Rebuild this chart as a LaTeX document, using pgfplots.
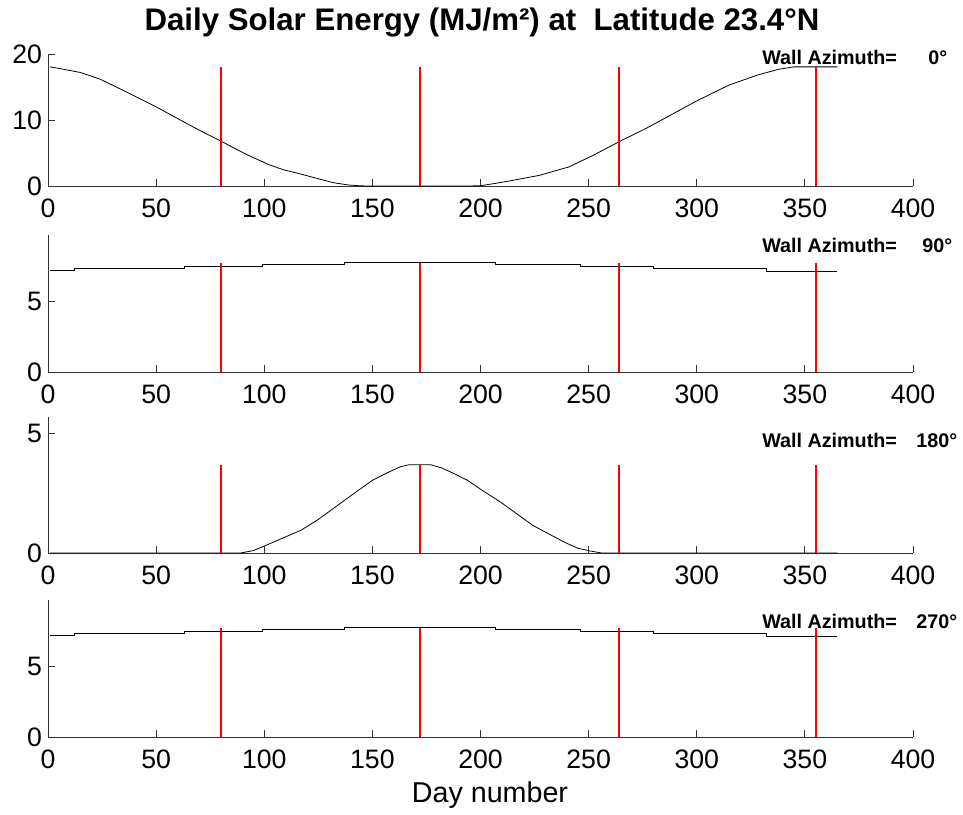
\documentclass[border=0pt]{standalone}
\usepackage{fontspec}
\setmainfont{Liberation Sans}
\usepackage{pgfplots}
\pgfplotsset{compat=1.18}
\pgfplotsset{
  myax/.style={
    scale only axis, width=648.75pt,
    xmin=0, xmax=400, ymin=0, enlargelimits=false,
    axis x line=bottom, axis y line=left,
    axis line style={-, black!80, line width=0.75pt},
    tick style={black!80, line width=0.75pt},
    tick align=inside, major tick length=5.25pt,
    xtick={0,50,...,400},
    ticklabel style={font=\fontsize{20}{24}\selectfont},
    xticklabel style={yshift=-6pt},
    yticklabel style={xshift=-1pt},
    /pgf/number format/assume math mode=true,
    unbounded coords=jump,
    anchor=south west, clip=false,
  },
}
\begin{document}
\begin{tikzpicture}
\path[use as bounding box] (0,0) rectangle (722.25pt,-610.5pt);

% Panel 1: wall azimuth 0
\begin{axis}[myax, at={(36pt,-139.5pt)}, height=99pt, ymax=20, ytick={0,10,20}]
\addplot[black, line width=0.6pt] coordinates {
(1,18.05) (7,17.7) (15,17.2) (24,16.2) (36,14.3) (50,12.0) (64,9.5) (70,8.45)
(80,6.8) (86,5.75) (93,4.6) (102,3.25) (109,2.45) (117,1.8) (125,1.1) (132,0.5) (139,0.15)
(145,0.02) (150,0) (195,0) (200,0.05) (207,0.4) (214,0.8) (227,1.6) (241,2.9)
(253,4.8) (264,6.7) (277,8.8) (286,10.4) (300,12.9) (315,15.3) (328,16.8)
(338,17.7) (345,18.05) (365,18.05)};
\addplot[red, line width=1.3pt] coordinates {(80,0) (80,18.07) (80,nan)
 (172,0) (172,18.07) (172,nan) (264,0) (264,18.07) (264,nan) (355,0) (355,18.07)};
\end{axis}

% Panel 2: wall azimuth 90
\begin{axis}[myax, at={(36pt,-279pt)}, height=102.75pt, ymax=9.65, ytick={0,5}]
\addplot[black, line width=0.6pt, const plot] coordinates {
(1,7.13) (12,7.28) (63,7.42) (99,7.58) (137,7.72) (207,7.58) (246,7.42)
(280,7.28) (332,7.12) (365,7.12)};
\addplot[red, line width=1.3pt] coordinates {(80,0) (80,7.7) (80,nan)
 (172,0) (172,7.7) (172,nan) (264,0) (264,7.7) (264,nan) (355,0) (355,7.7)};
\end{axis}

% Panel 3: wall azimuth 180
\begin{axis}[myax, at={(36pt,-414.75pt)}, height=102pt, ymax=5.67, ytick={0,5}]
\addplot[black, line width=0.6pt] coordinates {
(1,0) (89,0) (95,0.1) (100,0.29) (108,0.6) (117,0.95) (125,1.4) (132,1.86)
(141,2.45) (150,3.03) (157,3.35) (163,3.6) (167,3.68) (177,3.68) (182,3.55)
(188,3.3) (194,3.03) (201,2.6) (209,2.14) (217,1.62) (224,1.16) (234,0.68)
(240,0.4) (245,0.2) (251,0.08) (256,0) (365,0)};
\addplot[red, line width=1.3pt] coordinates {(80,0) (80,3.67) (80,nan)
 (172,0) (172,3.67) (172,nan) (264,0) (264,3.67) (264,nan) (355,0) (355,3.67)};
\end{axis}

% Panel 4: wall azimuth 270
\begin{axis}[myax, at={(36pt,-552.75pt)}, height=102.75pt, ymax=9.65, ytick={0,5}]
\addplot[black, line width=0.6pt, const plot] coordinates {
(1,7.13) (12,7.28) (63,7.42) (99,7.58) (137,7.72) (207,7.58) (246,7.42)
(280,7.28) (332,7.12) (365,7.12)};
\addplot[red, line width=1.3pt] coordinates {(80,0) (80,7.7) (80,nan)
 (172,0) (172,7.7) (172,nan) (264,0) (264,7.7) (264,nan) (355,0) (355,7.7)};
\end{axis}

% Titles and labels
\node[font=\fontsize{23.4}{28}\selectfont\bfseries] at (361.5pt,-16.5pt)
  {Daily Solar Energy (MJ/m²) at \ Latitude 23.4°N};
\node[font=\fontsize{21.5}{26}\selectfont] at (367.5pt,-596.25pt) {Day number};

\tikzset{wa/.style={anchor=west, inner sep=0pt, font=\fontsize{14.8}{18}\selectfont\bfseries}}
\node[wa] at (571.5pt,-42.75pt)  {\makebox[138.75pt][l]{Wall Azimuth=\hfill 0°}};
\node[wa] at (571.5pt,-183.75pt) {\makebox[142.5pt][l]{Wall Azimuth=\hfill 90°}};
\node[wa] at (571.5pt,-330pt)    {\makebox[146.25pt][l]{Wall Azimuth=\hfill 180°}};
\node[wa] at (571.5pt,-465.75pt) {\makebox[146.25pt][l]{Wall Azimuth=\hfill 270°}};
\end{tikzpicture}
\end{document}
